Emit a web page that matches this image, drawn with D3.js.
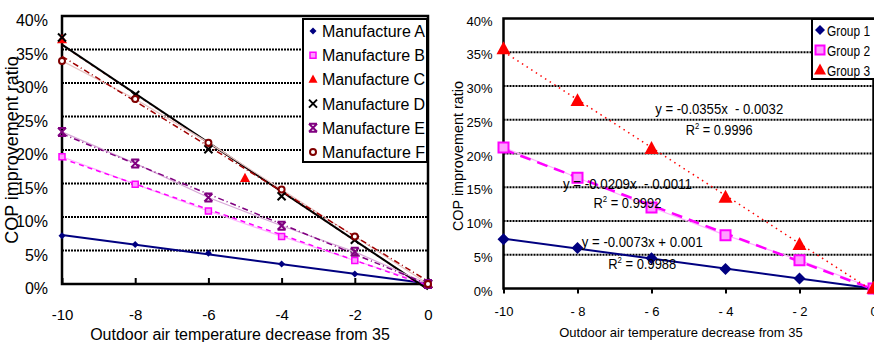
<!DOCTYPE html>
<html><head><meta charset="utf-8">
<script src="https://cdn.jsdelivr.net/npm/d3@7"></script>
<style>
html,body{margin:0;padding:0;background:#fff;}
svg{display:block;}
.narrow{font-family:"Liberation Sans Narrow","Arial Narrow",Arial,sans-serif;}
.reg{font-family:"Liberation Sans",Arial,sans-serif;}
</style></head>
<body>
<svg id="c" width="874" height="342"></svg>
<script>
// ---------- data ----------
const xTicks = [-10, -8, -6, -4, -2, 0];
const yTicks = [0, 0.05, 0.10, 0.15, 0.20, 0.25, 0.30, 0.35, 0.40];
const leftXLabels = ["-10", "-8", "-6", "-4", "-2", "0"];
const rightXLabels = ["-10", "- 8", "- 6", "- 4", "- 2", "0"];

const xAll = [-10, -8, -6, -4, -2, 0];
const xC = [-10, -5, 0];
const manufA = [0.072, 0.059, 0.046, 0.030, 0.015, 0];
const manufB = [0.190, 0.149, 0.109, 0.071, 0.035, 0];
const manufC = [0.365, 0.158, 0];
const manufD = [0.368, 0.282, 0.201, 0.131, 0.066, 0];
const manufE = [0.227, 0.180, 0.129, 0.087, 0.048, 0];
const manufF = [0.333, 0.276, 0.211, 0.141, 0.071, 0];
const leftNames = ["Manufacture A", "Manufacture B", "Manufacture C", "Manufacture D", "Manufacture E", "Manufacture F"];

const group1 = [0.073, 0.060, 0.045, 0.029, 0.015, 0];
const group2 = [0.209, 0.164, 0.120, 0.079, 0.042, 0];
const group3 = [0.355, 0.278, 0.207, 0.135, 0.065, 0];
const rightNames = ["Group 1", "Group 2", "Group 3"];
const eqTexts = ["y = -0.0073x + 0.001", "y = -0.0209x  - 0.0011", "y = -0.0355x  - 0.0032"];
const r2Texts = ["0.9988", "0.9992", "0.9996"];

const xTitle = "Outdoor air temperature decrease from 35";
const yTitle = "COP improvement ratio";

// ---------- helpers ----------
const svg = d3.select("#c");
function regress(xs, ys){
  const n = xs.length, mx = d3.mean(xs), my = d3.mean(ys);
  let sxy = 0, sxx = 0;
  for (let i=0;i<n;i++){ sxy += (xs[i]-mx)*(ys[i]-my); sxx += (xs[i]-mx)**2; }
  const b = sxy/sxx; return {b, a: my - b*mx};
}
function markerPath(type, r){
  switch(type){
    case "diamond": return `M0,${-r}L${r},0L0,${r}L${-r},0Z`;
    case "square": return `M${-r},${-r}H${r}V${r}H${-r}Z`;
    case "triangle": return `M0,${-r*1.1}L${r},${r*0.75}L${-r},${r*0.75}Z`;
    case "x": return `M${-r},${-r}L${r},${r}M${r},${-r}L${-r},${r}`;
    case "hour": return `M${-r},${-r}L${r},${r}M${r},${-r}L${-r},${r}M${-r},${-r}H${r}M${-r},${r}H${r}`;
    case "circle": return `M${r},0A${r},${r} 0 1,1 ${-r},0A${r},${r} 0 1,1 ${r},0Z`;
  }
}
function drawMarker(g, type, x, y, r, st){
  g.append("path").attr("d", markerPath(type, r)).attr("transform", `translate(${x},${y})`)
    .attr("fill", st.fill || "none").attr("stroke", st.stroke || "none").attr("stroke-width", st.sw || 0);
}

function chart(cfg){
  const g = svg.append("g");
  const x = d3.scaleLinear().domain([-10, 0]).range([cfg.x0, cfg.x1]);
  const y = d3.scaleLinear().domain([0, 0.4]).range([cfg.y0, cfg.y1]);
  g.selectAll("line.grid").data(yTicks.filter(v => v > 0 && v < 0.4)).join("line")
    .attr("x1", cfg.x0).attr("x2", cfg.x1).attr("y1", d => y(d)).attr("y2", d => y(d))
    .attr("stroke", "#000").attr("stroke-width", 2).attr("stroke-dasharray", "2,1");
  const xa = g.append("g").attr("transform", `translate(0,${cfg.y0})`)
    .call(d3.axisBottom(x).tickValues(xTicks).tickSize(cfg.xTickSize).tickPadding(cfg.xTickPad)
      .tickFormat((d,i) => cfg.xLabels[i]));
  xa.select(".domain").remove();
  xa.selectAll(".tick line").attr("stroke", "#000").attr("stroke-width", 2);
  xa.selectAll("text").attr("class", "reg").attr("font-size", cfg.xTickFont).attr("fill", "#000").style("white-space", "pre");
  const ya = g.append("g").attr("transform", `translate(${cfg.x0},0)`)
    .call(d3.axisLeft(y).tickValues(yTicks).tickSize(0).tickPadding(cfg.yTickPad)
      .tickFormat(d => Math.round(d*100) + "%"));
  ya.select(".domain").remove();
  ya.selectAll("text").attr("class", "narrow").attr("font-size", cfg.yTickFont).attr("fill", "#000")
    .attr("dy", cfg.yTickDy);
  g.append("rect").attr("x", cfg.x0).attr("y", cfg.y1).attr("width", cfg.x1 - cfg.x0).attr("height", cfg.y0 - cfg.y1)
    .attr("fill", "none").attr("stroke", "#000").attr("stroke-width", 2.5);
  g.append("text").attr("class", "reg").attr("x", cfg.xTitleX).attr("y", cfg.xTitleY).attr("text-anchor", "middle")
    .attr("font-size", cfg.xTitleFont).text(xTitle);
  g.append("text").attr("class", "reg").attr("transform", `translate(${cfg.yTitleX},${cfg.yTitleY}) rotate(-90)`)
    .attr("text-anchor", "middle").attr("font-size", cfg.yTitleFont).text(yTitle);
  return {g, x, y};
}

// ---------- left chart ----------
const L = chart({x0: 62, x1: 428, y0: 284, y1: 16, xTickSize: -6, xTickPad: 25, xTickFont: 15,
  yTickPad: 14, yTickFont: 16, yTickDy: "0.62em", xLabels: leftXLabels,
  xTitleX: 240, xTitleY: 340, xTitleFont: 16, yTitleX: 17.5, yTitleY: 150, yTitleFont: 18});

const leftSeries = [
  {xs: xAll, ys: manufA, conn: null, trend: {dash: null, w: 2, c: "#000080"}, m: "diamond", r: 3.5, st: {fill: "#000080"}},
  {xs: xAll, ys: manufB, conn: "#ffb0ff", trend: {dash: "5,4", w: 1.5, c: "#ff00ff"}, m: "square", r: 3, st: {fill: "#ff9cff", stroke: "#ff00ff", sw: 1.5}},
  {xs: xC, ys: manufC, conn: null, trend: {dash: "3,4", w: 1.5, c: "#e00000"}, m: "triangle", r: 5, st: {fill: "#ff0000"}},
  {xs: xAll, ys: manufD, conn: null, trend: {dash: null, w: 2, c: "#000"}, m: "x", r: 4, st: {stroke: "#000", sw: 2}},
  {xs: xAll, ys: manufE, conn: "#d8a8d8", trend: {dash: "6,3,1,3", w: 1.5, c: "#800080"}, m: "hour", r: 4, st: {stroke: "#800080", sw: 2}},
  {xs: xAll, ys: manufF, conn: "#e8c4c4", trend: {dash: "6,3,1,3", w: 1.5, c: "#a00000"}, m: "circle", r: 3, st: {fill: "#fff", stroke: "#800000", sw: 2}}
];
function drawSeries(C, s){
  const line = d3.line().x(d => C.x(d[0])).y(d => C.y(d[1]));
  const pts = s.xs.map((v,i) => [v, s.ys[i]]);
  if (s.conn) C.g.append("path").attr("d", line(pts)).attr("fill", "none").attr("stroke", s.conn).attr("stroke-width", 1.2);
  const {a, b} = regress(s.xs, s.ys);
  const tp = [[-10, a + b*-10], [0, a]];
  C.g.append("path").attr("d", line(tp)).attr("fill", "none").attr("stroke", s.trend.c)
    .attr("stroke-width", s.trend.w).attr("stroke-dasharray", s.trend.dash);
}
function drawMarkers(C, s){
  s.xs.forEach((v,i) => drawMarker(C.g, s.m, C.x(v), C.y(s.ys[i]), s.r, s.st));
}
leftSeries.forEach(s => drawSeries(L, s));
leftSeries.forEach(s => drawMarkers(L, s));

// left legend
const lg = L.g.append("g");
lg.append("rect").attr("x", 303).attr("y", 19).attr("width", 124).attr("height", 143)
  .attr("fill", "#fff").attr("stroke", "#000").attr("stroke-width", 2);
leftSeries.forEach((s,i) => {
  const yy = 31 + i*24.2;
  drawMarker(lg, s.m, 313, yy, s.m === "triangle" ? 4.5 : s.r, s.st);
  lg.append("text").attr("class", "reg").attr("x", 322).attr("y", yy + 6).attr("font-size", 16)
    .attr("textLength", 103).attr("lengthAdjust", "spacing").text(leftNames[i]);
});

// ---------- right chart ----------
const R = chart({x0: 503.5, x1: 873.5, y0: 288.5, y1: 18.5, xTickSize: 5, xTickPad: 13, xTickFont: 13,
  yTickPad: 11, yTickFont: 13, yTickDy: "0.5em", xLabels: rightXLabels,
  xTitleX: 681, xTitleY: 337, xTitleFont: 13, yTitleX: 463, yTitleY: 156, yTitleFont: 14.4});

const rightSeries = [
  {xs: xAll, ys: group1, conn: null, trend: {dash: null, w: 2, c: "#000080"}, m: "diamond", r: 6, st: {fill: "#000080"}},
  {xs: xAll, ys: group2, conn: "#ffb0ff", trend: {dash: "11,7", w: 2.5, c: "#ff00ff"}, m: "square", r: 5, st: {fill: "#ff9cff", stroke: "#ff00ff", sw: 2}},
  {xs: xAll, ys: group3, conn: null, trend: {dash: "1.5,4", w: 1.5, c: "#ff0000"}, m: "triangle", r: 7, st: {fill: "#ff0000"}}
];
rightSeries.forEach(s => drawSeries(R, s));
rightSeries.forEach(s => drawMarkers(R, s));

// equations (anchored in data coordinates): [x, y line1, y line2]
const eqPos = [[-6.25, 0.0615, 0.029], [-6.65, 0.1474, 0.119], [-4.17, 0.2585, 0.227]];
const eqLen = [[121, 68], [129, 68], [128, 67]];
eqPos.forEach((p,i) => {
  R.g.append("text").attr("class", "narrow").attr("x", R.x(p[0])).attr("y", R.y(p[1]))
    .attr("text-anchor", "middle").attr("font-size", 15).style("white-space", "pre")
    .attr("textLength", eqLen[i][0]).attr("lengthAdjust", "spacingAndGlyphs").text(eqTexts[i]);
  const t = R.g.append("text").attr("class", "narrow").attr("x", R.x(p[0])).attr("y", R.y(p[2]))
    .attr("text-anchor", "middle").attr("font-size", 15).style("white-space", "pre")
    .attr("textLength", eqLen[i][1]).attr("lengthAdjust", "spacingAndGlyphs");
  t.append("tspan").text("R");
  t.append("tspan").attr("font-size", 9).attr("dy", -6).text("2");
  t.append("tspan").attr("dy", 6).text(" = " + r2Texts[i]);
});

// right legend
const rg = R.g.append("g");
rg.append("rect").attr("x", 812).attr("y", 19).attr("width", 80).attr("height", 60)
  .attr("fill", "#fff").attr("stroke", "#000").attr("stroke-width", 2);
rightSeries.forEach((s,i) => {
  const yy = 30 + i*20;
  drawMarker(rg, s.m, 820, yy, s.m === "triangle" ? 6 : (s.m === "square" ? 4.5 : 5), s.st);
  rg.append("text").attr("class", "narrow").attr("x", 827).attr("y", yy + 6).attr("font-size", 15.5)
    .attr("textLength", 43).attr("lengthAdjust", "spacingAndGlyphs").text(rightNames[i]);
});
</script>
</body></html>
